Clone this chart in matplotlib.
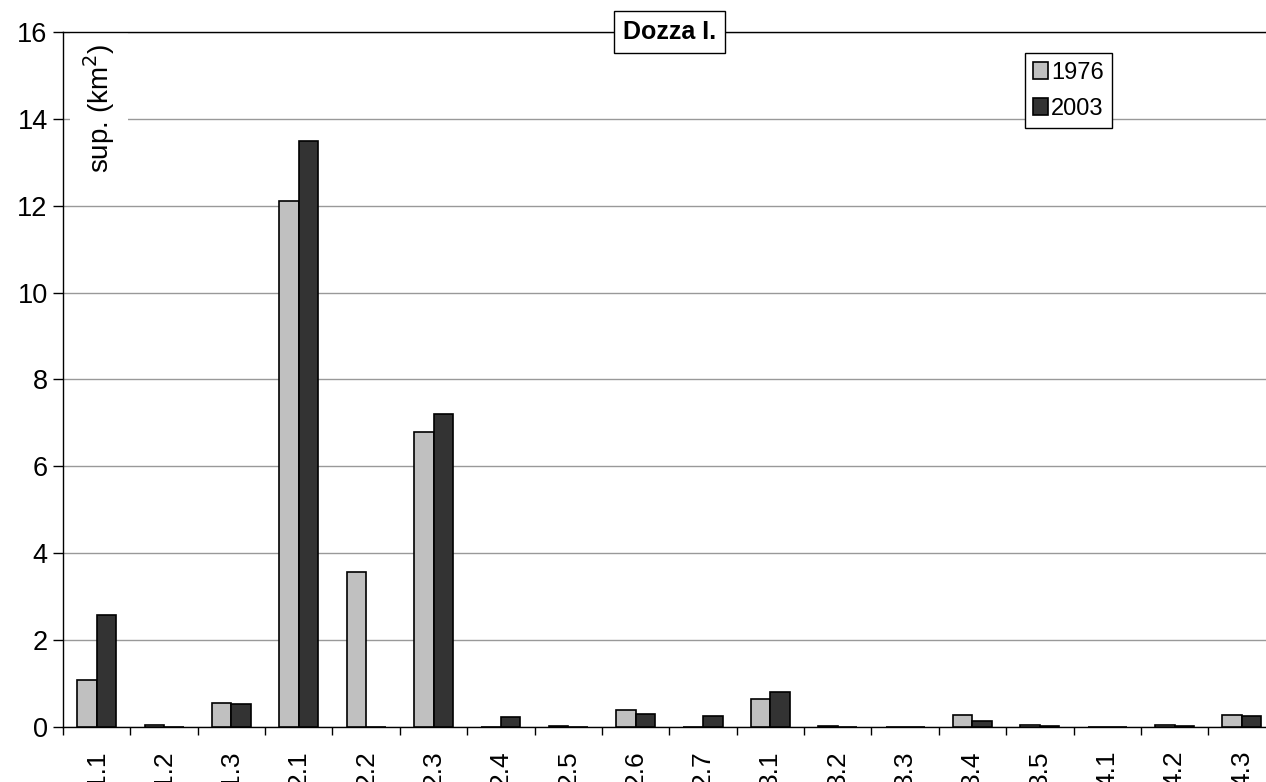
import matplotlib
matplotlib.use("Agg")
import matplotlib.pyplot as plt
import numpy as np

plt.rcParams['font.family'] = ['Liberation Sans', 'DejaVu Sans']

categories = ["1.1", "1.2", "1.3", "2.1", "2.2", "2.3", "2.4", "2.5", "2.6",
              "2.7", "3.1", "3.2", "3.3", "3.4", "3.5", "4.1", "4.2", "4.3"]
area_1976 = [1.08, 0.04, 0.56, 12.1, 3.57, 6.78, 0.0, 0.03, 0.38,
             0.0, 0.65, 0.02, 0.0, 0.27, 0.04, 0.0, 0.04, 0.28]
area_2003 = [2.57, 0.01, 0.52, 13.5, 0.0, 7.2, 0.22, 0.0, 0.31,
             0.26, 0.80, 0.0, 0.0, 0.13, 0.02, 0.0, 0.02, 0.26]
series_labels = ["1976", "2003"]
yticks = [0, 2, 4, 6, 8, 10, 12, 14, 16]

W, H = 1266, 782
fig = plt.figure(figsize=(W / 100, H / 100), dpi=100)
ax = fig.add_axes([63 / W, 55 / H, 1212.6 / W, 695 / H])

x = np.arange(len(categories))
bw = 0.29
ax.bar(x - bw / 2, area_1976, width=bw, color="#c0c0c0", edgecolor="black",
       linewidth=1.2, label=series_labels[0], zorder=3)
ax.bar(x + bw / 2, area_2003, width=bw, color="#333333", edgecolor="black",
       linewidth=1.2, label=series_labels[1], zorder=3)

ax.set_xlim(-0.5, len(categories) - 0.5)
ax.set_ylim(0, 16)
ax.set_yticks(yticks)
ax.set_yticklabels([str(t) for t in yticks], fontsize=19.5)
ax.yaxis.grid(True, color="#999999", linewidth=1.0, zorder=0)
ax.set_axisbelow(True)

ax.set_xticks(x)
ax.set_xticklabels(categories, rotation=90, fontsize=19)
ax.set_xticks(np.arange(len(categories) + 1) - 0.5, minor=True)
ax.tick_params(axis="x", which="major", length=0, pad=17)
ax.tick_params(axis="x", which="minor", length=6, width=1, direction="out")
ax.tick_params(axis="y", length=7, width=1, direction="out", pad=4)

for side in ("left", "top", "bottom"):
    ax.spines[side].set_linewidth(1.0)
    ax.spines[side].set_color("black")
    ax.spines[side].set_zorder(2.5)
ax.spines["right"].set_visible(False)

# y-axis caption sits inside the plot, masking the grid behind it
ax.text(0.0295, 0.984, "sup. (km$^2$)", transform=ax.transAxes, rotation=90,
        ha="center", va="top", fontsize=20,
        bbox=dict(facecolor="white", edgecolor="none", pad=8), zorder=1)

ax.text(0.5, 1.0, "Dozza I.", transform=ax.transAxes, ha="center", va="center",
        fontsize=18, fontweight="bold",
        bbox=dict(facecolor="white", edgecolor="black", linewidth=1.0,
                  boxstyle="square,pad=0.35"), zorder=5)

leg = ax.legend(loc="upper right", bbox_to_anchor=(0.8653, 0.9694),
                fontsize=17, frameon=True,
                fancybox=False, edgecolor="black", framealpha=1,
                handlelength=0.62, handleheight=0.75, handletextpad=0.15,
                borderpad=0.35, labelspacing=0.6, borderaxespad=0)
leg.get_frame().set_linewidth(1.0)

fig.savefig("out.png", dpi=100)
